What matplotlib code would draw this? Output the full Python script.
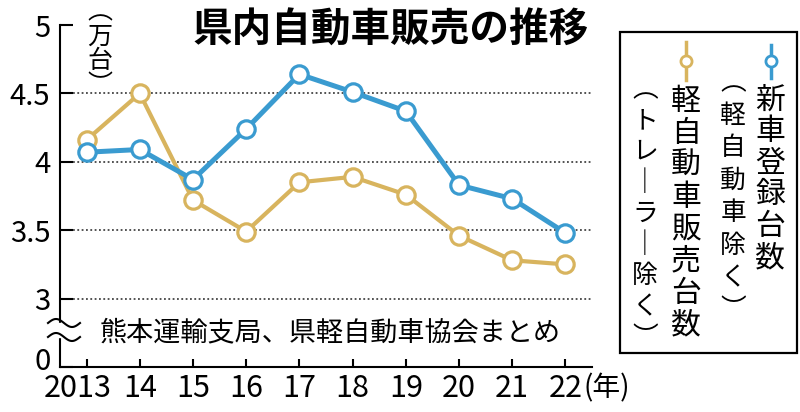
import numpy as np
import matplotlib
matplotlib.use("Agg")
import matplotlib.pyplot as plt
import matplotlib.transforms as mtransforms
from matplotlib.patches import Rectangle

plt.rcParams["font.family"] = ["Noto Sans CJK JP", "DejaVu Sans"]

years = list(range(2013, 2023))
year_labels = ["2013", "14", "15", "16", "17", "18", "19", "20", "21", "22"]
# 新車登録台数（軽自動車除く）, 万台
new_reg = [4.07, 4.09, 3.87, 4.24, 4.64, 4.51, 4.37, 3.83, 3.73, 3.48]
# 軽自動車販売台数（トレーラー除く）, 万台
kei_sales = [4.16, 4.50, 3.72, 3.49, 3.85, 3.89, 3.76, 3.46, 3.28, 3.25]
# axis is broken between 0 and 3: the "0" sits one half-step below 3
y_ticks = [2.5, 3, 3.5, 4, 4.5, 5]
y_labels = ["0", "3", "3.5", "4", "4.5", "5"]

BLUE = "#3a9bd0"
GOLD = "#d8b45e"

W, H = 800, 412
fig = plt.figure(figsize=(8, 4.12), dpi=100)
ax = fig.add_axes([60 / W, 45 / H, 532 / W, 342 / H])

for v in y_ticks[1:-1]:
    ax.axhline(v, ls=(0, (1, 1.4)), color="#444", lw=1.3, zorder=1)
ax.plot(years, kei_sales, "-o", color=GOLD, lw=3, ms=12.5, mew=2.3, mfc="white", zorder=3)
ax.plot(years, new_reg, "-o", color=BLUE, lw=3.6, ms=12.5, mew=2.3, mfc="white", zorder=4)

ax.set_xlim(2012.5, 2022.5)
ax.set_ylim(2.5, 5)
ax.set_yticks(y_ticks, y_labels)
ax.set_xticks(years, year_labels)
for s in ("top", "right"):
    ax.spines[s].set_visible(False)
for s in ("left", "bottom"):
    ax.spines[s].set_linewidth(1.5)
ax.tick_params(axis="y", direction="in", length=9, width=1.5, pad=7, labelsize=21)
ax.tick_params(axis="x", direction="in", length=6, width=1.5, pad=4, labelsize=22)


def nudge(label, dx, dy):
    label.set_transform(label.get_transform()
                        + mtransforms.ScaledTranslation(dx / 100, dy / 100, fig.dpi_scale_trans))


# "2013" sits a little left of its tick, "0" a little above its tick
nudge(ax.get_xticklabels()[0], -9, 0)
nudge(ax.get_yticklabels()[0], 0, 8)

# overlay in pixel coordinates for titles, break marks and the vertical legend
ov = fig.add_axes([0, 0, 1, 1], facecolor="none")
ov.set_xlim(0, W)
ov.set_ylim(H, 0)
ov.axis("off")

ov.text(391, 30, "県内自動車販売の推移", fontsize=28.5, fontweight="bold", ha="center", va="center")
ov.text(100, 333, "熊本運輸支局、県軽自動車協会まとめ", fontsize=19.5, ha="left", va="center")
ov.text(584, 388, "(年)", fontsize=20, ha="left", va="center")

# axis break
ov.add_patch(Rectangle((55, 323), 11, 14, color="white", zorder=5))
t = np.linspace(0, 2 * np.pi, 60)
for yc in (323, 337):
    ov.plot(48 + 32 * t / (2 * np.pi), yc - 4 * np.sin(t), color="k", lw=1.5, zorder=6)


def vtext(x, y0, chars, pitch, size):
    for i, c in enumerate(chars):
        ov.text(x, y0 + i * pitch, c, fontsize=size, ha="center", va="center")


vtext(100, 12, "︵万台︶", 24.5, 18)

# legend
ov.add_patch(Rectangle((620, 32), 177, 321, fill=False, lw=1.6, ec="k"))
ov.plot([771, 771], [45, 78], color=BLUE, lw=2.5)
ov.plot([771], [61], "o", color=BLUE, ms=8, mew=2, mfc="white")
ov.plot([686, 686], [42, 80], color=GOLD, lw=2.5)
ov.plot([686], [61], "o", color=GOLD, ms=8, mew=2, mfc="white")
vtext(770, 100, "新車登録台数", 31.5, 21.5)
vtext(733, 83, "︵軽自動車除く︶", 32.5, 18.5)
vtext(686, 101, "軽自動車販売台数", 32, 21.5)
vtext(645, 90, "︵トレ｜ラ｜除く︶", 31, 18.5)

fig.savefig("out.png", dpi=100)
